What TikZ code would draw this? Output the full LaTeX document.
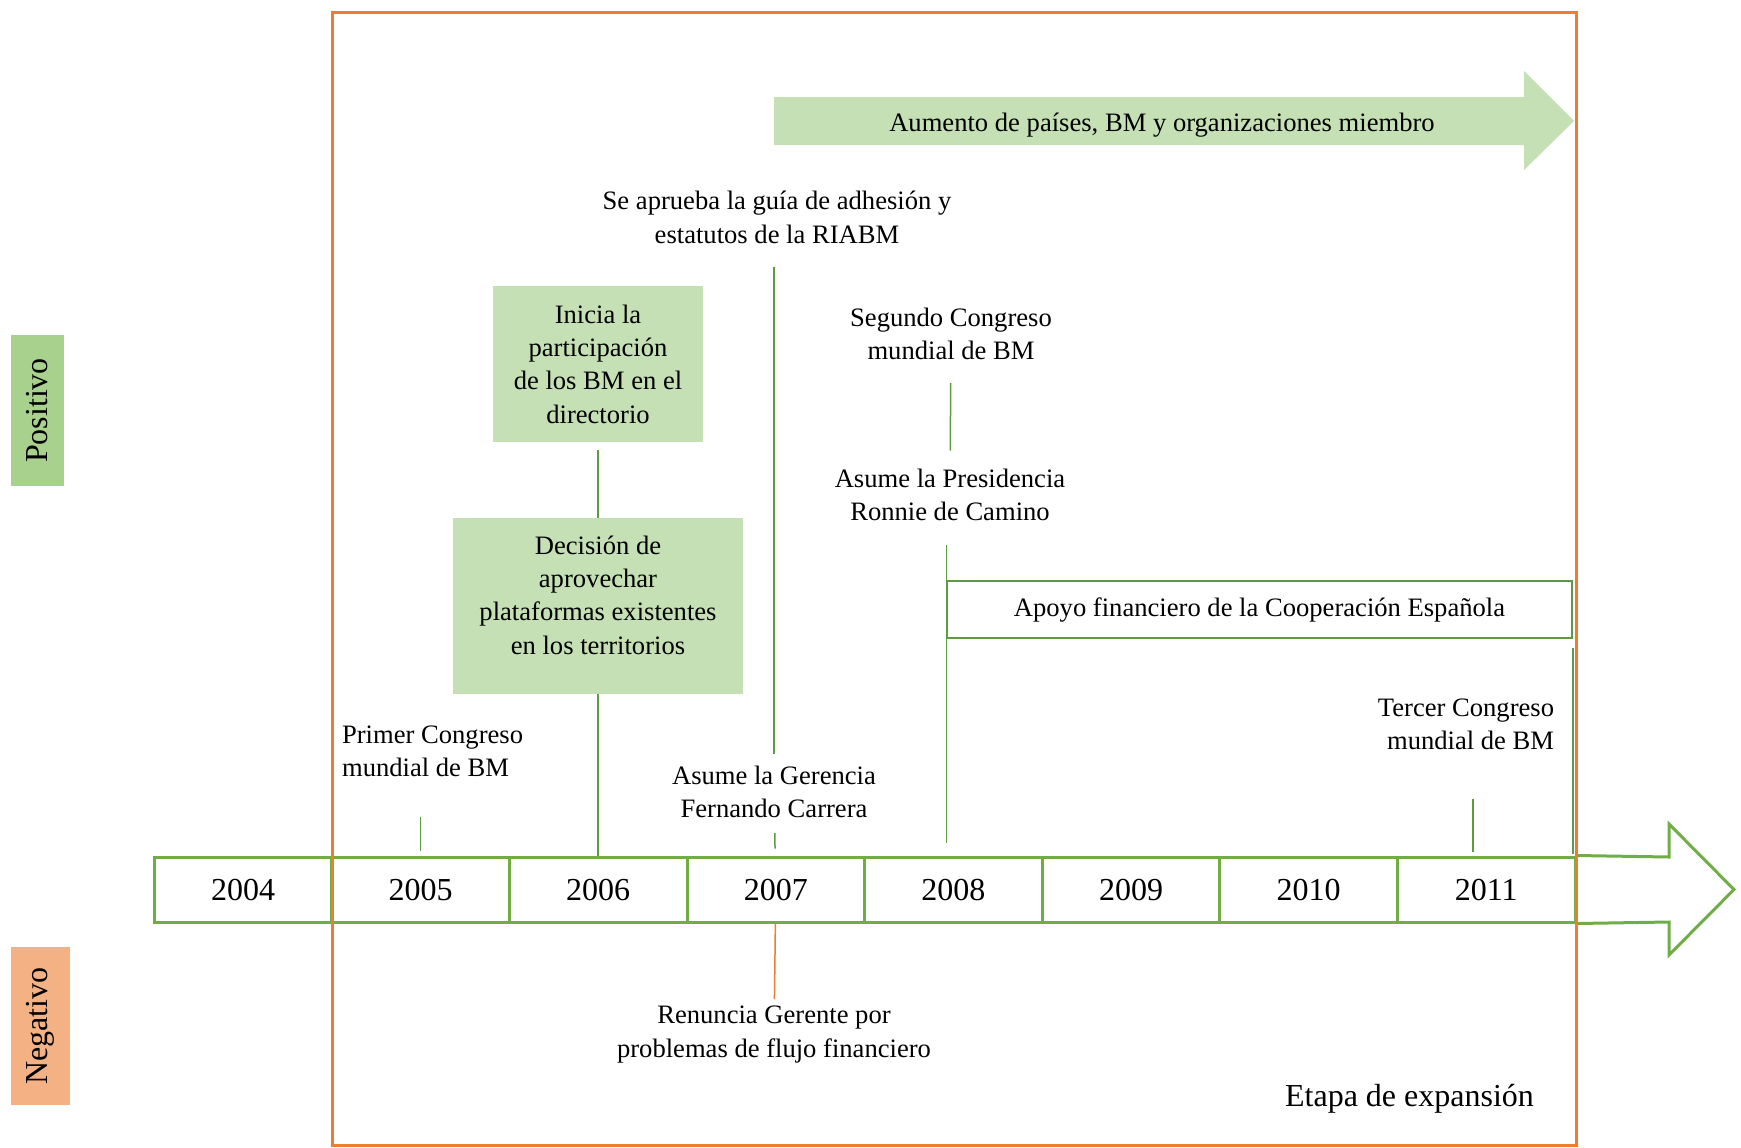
\documentclass[tikz,border=0pt]{standalone}
\usepackage{fontspec}
\setmainfont{Liberation Serif}
\definecolor{verde}{HTML}{70AD47}
\definecolor{verdeclaro}{HTML}{C5E0B4}
\definecolor{verdemedio}{HTML}{A9D18E}
\definecolor{lineaverde}{HTML}{5E9A40}
\definecolor{naranja}{HTML}{ED7D31}
\definecolor{salmon}{HTML}{F4B183}
\tikzstyle{yearbox} = [rectangle, draw=verde, line width=1.5pt, minimum width=88.8pt, minimum height=32.5pt, inner sep=0pt, font=\fontsize{16}{19}\selectfont]
\tikzstyle{sidebox} = [rectangle, rotate=90, inner sep=0pt, font=\fontsize{16}{19}\selectfont]
\tikzstyle{eventbox} = [rectangle, fill=verdeclaro, align=center, text centered]
\tikzstyle{event} = [align=center]
\tikzstyle{link} = [draw=lineaverde, line width=0.75pt]
\tikzstyle{neglink} = [draw=naranja, line width=0.75pt]
\tikzstyle{frame} = [draw=naranja, line width=1.5pt]

\begin{document}
\begin{tikzpicture}[x=0.5pt, y=-0.5pt, node distance=88.8pt, font=\fontsize{13.3}{16.65}\selectfont]
        \useasboundingbox (0,0) rectangle (1741,1147);

        \node (positivo) [sidebox, fill=verdemedio, minimum width=75.5pt, minimum height=26.5pt] at (37.5,410.5) {Positivo};
        \node (negativo) [sidebox, fill=salmon, minimum width=79pt, minimum height=29.5pt] at (40.5,1026) {Negativo};

        \fill [verdeclaro] (774,97) -- (1524,97) -- (1524,71) -- (1574,121) -- (1524,170) -- (1524,145) -- (774,145) -- cycle;
        \node (aumento) at (1162,125.5) {Aumento de países, BM y organizaciones miembro};

        \node (y2004) [yearbox] at (243,889.5) {2004};
        \node (y2005) [yearbox, right of=y2004] {2005};
        \node (y2006) [yearbox, right of=y2005] {2006};
        \node (y2007) [yearbox, right of=y2006] {2007};
        \node (y2008) [yearbox, right of=y2007] {2008};
        \node (y2009) [yearbox, right of=y2008] {2009};
        \node (y2010) [yearbox, right of=y2009] {2010};
        \node (y2011) [yearbox, right of=y2010] {2011};
        \draw [draw=verde, line width=1.5pt] (y2011.north east) -- (1669,857) -- (1669,824) -- (1734,889.5) -- (1669,955) -- (1669,922) -- (y2011.south east);

        \node (inicia) [eventbox, minimum width=105pt, minimum height=78pt] at (598,364) {Inicia la\\participación\\de los BM en el\\directorio};
        \node (decision) [eventbox, minimum width=145pt, minimum height=88pt] at (598,606) {Decisión de\\aprovechar\\plataformas existentes\\en los territorios\\[-5.65pt]\mbox{}};
        \node (aprueba) [event] at (777,217.5) {Se aprueba la guía de adhesión y\\estatutos de la RIABM};
        \node (gerencia) [event] at (774,792) {Asume la Gerencia\\Fernando Carrera};
        \node (renuncia) [event] at (774,1034.5) {Renuncia Gerente por\\problemas de flujo financiero};
        \node (primer) [event, align=left, anchor=west] at (335,751) {Primer Congreso\\mundial de BM};
        \node (segundo) [event] at (951,334) {Segundo Congreso\\mundial de BM};
        \node (presidencia) [event] at (950,495) {Asume la Presidencia\\Ronnie de Camino};
        \node (apoyo) [rectangle, draw=lineaverde, line width=0.75pt, minimum width=312.5pt, minimum height=28.5pt] at (1259.5,609.5) {Apoyo financiero de la Cooperación Española};
        \node (tercer) [event, align=right] at (1466,724.5) {Tercer Congreso\\mundial de BM};
        \node (etapa) [font=\fontsize{16}{19}\selectfont] at (1409.5,1099) {Etapa de expansión};

        \draw [link, shorten <=4pt] (inicia) -- (decision);
        \draw [link] (decision) -- (decision |- y2006.north);
        \draw [link, shorten <=8pt, shorten >=2.5pt] (aprueba.south -| gerencia) -- (gerencia);
        \draw [link, shorten <=4pt, shorten >=3.5pt] (gerencia) -- (y2007);
        \draw [neglink] (y2007) -- (renuncia);
        \draw [link, shorten <=16.5pt, shorten >=2.5pt] (primer.south -| y2005) -- (y2005);
        \draw [link, shorten <=8pt, shorten >=5.7pt] (segundo) -- (presidencia);
        \draw [link, shorten <=8.5pt, shorten >=6.5pt] (presidencia.south -| apoyo.west) -- (apoyo.west |- y2008.north);
        \draw [link, shorten <=4.5pt, shorten >=1pt] (apoyo.south east) -- (apoyo.south east |- y2011.north);
        \draw [link, shorten <=20.8pt, shorten >=2pt] ([xshift=3.5pt]tercer.south) -- ([xshift=3.5pt]tercer.south |- y2011.north);

        \draw [frame] (332,12) rectangle (1576,1145);
\end{tikzpicture}
\end{document}
